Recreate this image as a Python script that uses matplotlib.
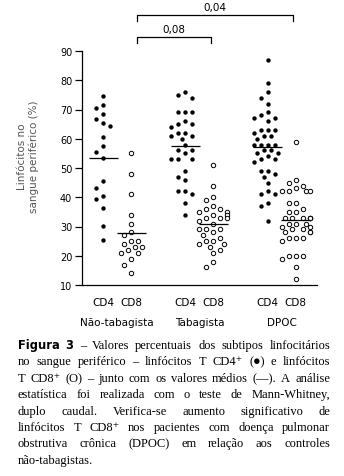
import numpy as np
import matplotlib
matplotlib.use("Agg")
import matplotlib.pyplot as plt
import matplotlib.transforms as mtransforms

# ---------------- data ----------------
groups = ["Não-tabagista", "Tabagista", "DPOC"]
subsets = ["CD4", "CD8"]

nt_cd4 = [74.5, 71.5, 70.5, 68.5, 66.6, 65.5, 64.5, 60.5, 57.5, 55.4, 53.4,
          45.4, 43.3, 40.5, 39.3, 36.2, 30.2, 25.3]
nt_cd8 = [55, 48, 41, 34, 31, 28, 27, 25, 25, 24, 23, 23, 22, 21, 21, 19, 17, 14]

tb_cd4 = [76, 75, 74, 69, 69, 69, 66, 65, 65, 64, 62, 62, 61, 61, 60, 58, 56, 56,
          55, 53, 53, 53, 49, 47, 46, 42, 42, 41, 38, 34]
tb_cd8 = [51, 44, 40, 39, 37, 36, 36, 35, 35, 34, 34, 33, 33, 33, 32, 31, 29, 29,
          29, 28, 27, 26, 25, 25, 24, 24, 23, 22, 21, 18, 16]

dp_cd4 = [87, 79, 76, 74, 72, 69, 68, 67, 67, 66, 63, 63, 63, 62, 61, 61, 60, 58,
          58, 58, 58, 56, 56, 55, 55, 54, 53, 53, 52, 49, 49, 48, 47, 45, 42, 41,
          41, 38, 37, 32]
dp_cd8 = [59, 46, 45, 44, 43, 42, 42, 42, 42, 38, 38, 36, 35, 35, 33, 33, 33, 33,
          33, 33, 31, 31, 31, 30, 30, 29, 29, 28, 28, 28, 26, 26, 26, 25, 20, 20,
          20, 19, 16, 12]

mean_cd4 = [53.4, 57.4, 57.1]
mean_cd8 = [27.7, 30.8, 32.2]

p_labels = ["0,08", "0,04"]
yticks = [10, 20, 30, 40, 50, 60, 70, 80, 90]

caption_lines = [
    "Figura 3 – Valores percentuais dos subtipos linfocitários",
    "no sangue periférico – linfócitos T CD4⁺ (●) e linfócitos",
    "T CD8⁺ (O) – junto com os valores médios (—). A análise",
    "estatística foi realizada com o teste de Mann-Whitney,",
    "duplo caudal. Verifica-se aumento significativo de",
    "linfócitos T CD8⁺ nos pacientes com doença pulmonar",
    "obstrutiva crônica (DPOC) em relação aos controles",
    "não-tabagistas.",
]

# ---------------- figure ----------------
W, H = 344, 477
fig = plt.figure(figsize=(W / 100, H / 100), dpi=100)
ax_l, ax_r, ax_t, ax_b = 82, 317, 52, 286
ax = fig.add_axes([ax_l / W, 1 - ax_b / H, (ax_r - ax_l) / W, (ax_b - ax_t) / H])

xlim = (-0.426, 2.43)
ax.set_xlim(*xlim)
ax.set_ylim(10, 90)
PX_X = (ax_r - ax_l) / (xlim[1] - xlim[0])
PX_Y = (ax_b - ax_t) / 80.0

def swarm(vals, min_d, col_dy=6.5, step=7.0):
    placed = []
    res = [0.0] * len(vals)
    order = sorted(range(len(vals)), key=lambda i: -vals[i])
    cands = [0, -1, 1, -0.5, 0.5, -1.5, 1.5, -2, 2]
    for i in order:
        y = vals[i] * PX_Y
        chosen = cands[-1] * step
        for c in cands:
            x = c * step
            ok = True
            for px, py in placed:
                dx, dy = abs(x - px), abs(y - py)
                if dx * dx + dy * dy < min_d ** 2 or (dx < 1 and dy < col_dy):
                    ok = False
                    break
            if ok:
                chosen = x
                break
        placed.append((chosen, y))
        res[i] = chosen / PX_X
    return np.array(res)

cd4_data = [nt_cd4, tb_cd4, dp_cd4]
cd8_data = [nt_cd8, tb_cd8, dp_cd8]
sub_off = 0.17
half = 14.5 / PX_X

for g in range(3):
    x4 = g - sub_off
    x8 = g + sub_off
    v4 = np.array(cd4_data[g], float)
    v8 = np.array(cd8_data[g], float)
    ax.scatter(x4 + swarm(v4, 4.8), v4, s=10, color="black", linewidths=0, zorder=3,
               clip_on=False)
    ax.scatter(x8 + swarm(v8, 5.0), v8, s=10, facecolors="white", edgecolors="black",
               linewidths=0.7, zorder=3, clip_on=False)
    ax.hlines(mean_cd4[g], x4 - half, x4 + half, color="black", lw=0.9, zorder=4)
    ax.hlines(mean_cd8[g], x8 - half, x8 + half, color="black", lw=0.9, zorder=4)

for s in ["top", "right"]:
    ax.spines[s].set_visible(False)
for s in ["left", "bottom"]:
    ax.spines[s].set_linewidth(0.9)

ax.set_yticks(yticks)
ax.set_yticklabels([str(t) for t in yticks])
ax.tick_params(axis="y", length=5, width=0.9, labelsize=7, pad=2)

xt = []
xl = []
for g in range(3):
    xt += [g - sub_off, g + sub_off]
    xl += subsets
ax.set_xticks(xt)
ax.set_xticklabels(xl, fontsize=7.5)
ax.tick_params(axis="x", length=0, pad=9)

for g, name in enumerate(groups):
    ax.annotate(name, xy=(g, 0), xycoords=("data", "axes fraction"),
                xytext=(0, -27), textcoords="offset points",
                ha="center", va="center", fontsize=7.5)

fig.text(28 / W, 1 - 157 / H, "Linfócitos no\nsangue periférico (%)",
         rotation=90, ha="center", va="center", multialignment="center",
         fontsize=7.5, color="#555555", linespacing=1.15)

# significance brackets
btr = mtransforms.blended_transform_factory(ax.transData, fig.transFigure)
brackets = [(0.243, 1.143, 38, p_labels[0]), (0.243, 2.14, 15.5, p_labels[1])]
for x0, x1, ypx, lab in brackets:
    yb = 1 - ypx / H
    yt = 1 - (ypx + 6) / H
    ax.plot([x0, x0, x1, x1], [yt, yb, yb, yt], transform=btr, color="black",
            lw=0.9, clip_on=False)
    ax.text((x0 + x1) / 2, 1 - (ypx - 8) / H, lab, transform=btr, ha="center",
            va="center", fontsize=7.5)

# ---------------- caption (justified) ----------------
fig.canvas.draw()
renderer = fig.canvas.get_renderer()
cap_left, cap_right = 18, 330
cap_y0, cap_dy = 346, 16.4
serif = ["Liberation Serif", "DejaVu Serif"]

for li, line in enumerate(caption_lines):
    words = line.split(" ")
    ypos = 1 - (cap_y0 + li * cap_dy) / H
    texts = []
    for wi, w in enumerate(words):
        if li == 0 and wi < 2:
            t = fig.text(0, ypos, w, fontsize=8.3, fontweight="bold",
                         family=["DejaVu Sans"], va="center", ha="left")
        else:
            t = fig.text(0, ypos, w, fontsize=9, family=serif, va="center", ha="left")
        texts.append(t)
    widths = [t.get_window_extent(renderer).width for t in texts]
    total = sum(widths)
    if li < len(caption_lines) - 1 and len(words) > 1:
        gap = (cap_right - cap_left - total) / (len(words) - 1)
    else:
        gap = 2.8
    x = cap_left
    for t, w in zip(texts, widths):
        t.set_x(x / W)
        x += w + gap

fig.savefig("out.png", dpi=100)
